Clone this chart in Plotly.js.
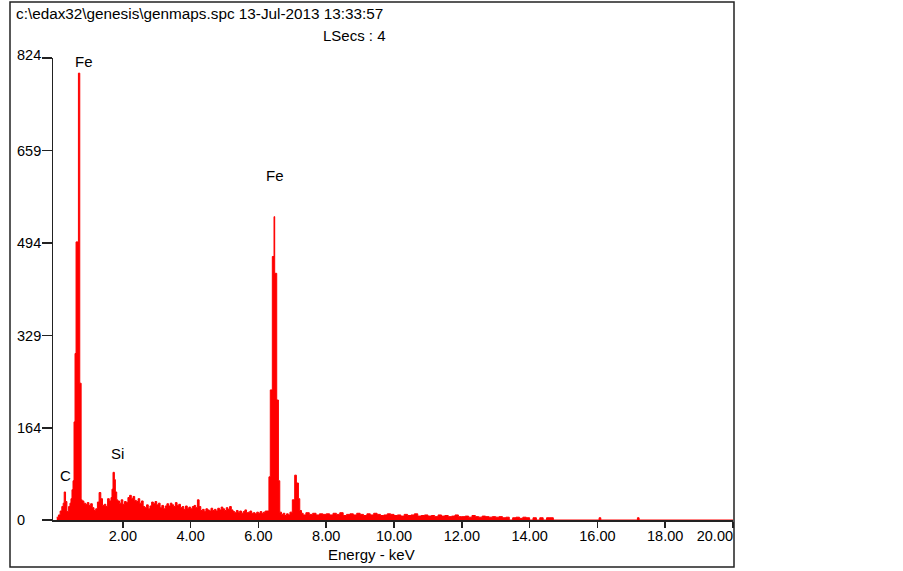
<!DOCTYPE html>
<html>
<head>
<meta charset="utf-8">
<script src="https://cdn.plot.ly/plotly-3.0.1.min.js"></script>
<style>html,body{margin:0;padding:0;background:#fff;}#chart{width:903px;height:571px;}</style>
</head>
<body>
<div id="chart"></div>
<script>
// Spectrum: left edge of each channel group (keV) and its counts
const energyKeV = [
  0.05,0.10,0.15,0.20,0.24,0.27,0.31,0.35,0.40,0.44,0.47,0.50,0.53,0.56,0.59,0.62,0.69,0.73,0.77,
  0.80,0.85,0.90,0.95,1.00,1.05,1.10,1.15,1.20,1.25,1.30,1.35,1.40,1.45,1.50,1.55,1.60,1.65,
  1.68,1.71,1.75,1.78,1.82,
  1.85,1.90,1.95,2.00,2.05,2.10,2.15,2.20,2.25,2.30,2.35,2.40,2.45,2.50,2.55,
  2.60,2.65,2.70,2.75,2.80,2.85,2.90,2.95,3.00,3.05,3.10,3.15,3.20,3.25,
  3.30,3.35,3.40,3.45,3.50,3.55,3.60,3.65,3.70,3.75,3.80,3.85,3.90,3.95,4.00,4.05,
  4.10,4.15,4.20,4.25,4.30,4.35,4.40,4.45,4.50,4.55,4.60,4.65,4.70,4.75,
  4.80,4.85,4.90,4.95,5.00,5.05,5.10,5.15,5.20,
  5.25,5.30,5.35,5.40,5.45,5.50,5.55,5.60,5.65,5.70,5.75,5.80,
  5.85,5.90,5.95,6.00,6.05,6.10,6.15,6.20,
  6.25,6.31,6.35,6.41,6.46,6.48,6.54,6.59,6.63,6.68,6.73,6.78,6.83,6.88,6.93,
  7.00,7.07,7.12,7.18,7.22,7.27,7.32,
  7.4,7.5,7.6,7.7,7.8,7.9,
  8.0,8.1,8.2,8.3,8.4,8.5,8.6,8.7,8.8,8.9,
  9.0,9.1,9.2,9.3,9.4,9.5,9.6,9.7,9.8,9.9,
  10.0,10.1,10.2,10.3,10.4,10.5,10.6,10.7,10.8,10.9,
  11.0,11.1,11.2,11.3,11.4,11.5,11.6,11.7,11.8,11.9,
  12.0,12.1,12.2,12.3,12.4,12.5,12.6,12.7,12.8,12.9,
  13.0,13.1,13.2,13.3,13.4,13.5,13.6,13.7,13.8,13.9,
  14.0,14.1,14.2,14.3,14.4,14.5,14.6,14.7,
  16.05,16.10,17.18,17.23,20.0
];
const counts = [
  5,9,16,24,30,50,33,15,24,30,38,54,70,175,297,496,797,244,36,
  34,30,28,31,26,29,22,17,20,32,49,38,26,28,24,38,34,40,
  55,85,72,50,36,
  34,30,36,28,33,31,40,44,38,42,35,33,38,30,34,
  24,22,27,20,25,32,29,33,27,30,22,26,20,25,
  29,25,30,27,24,31,26,28,22,24,19,25,21,23,20,24,
  26,22,36,24,17,19,15,20,18,16,21,17,19,16,
  21,18,23,20,17,22,19,24,18,
  15,13,17,14,16,12,15,18,13,14,16,12,
  13,11,14,12,15,12,14,16,
  16,77,232,470,541,440,214,70,14,10,12,8,11,9,14,
  36,80,66,38,17,12,9,
  13,10,12,9,11,10,
  11,9,12,10,13,8,10,11,9,12,
  10,8,11,9,12,10,8,9,11,10,
  8,9,7,10,8,9,11,7,8,9,
  7,8,6,9,7,8,6,7,9,6,
  6,7,5,8,6,5,7,6,5,6,
  5,6,4,5,0,4,5,3,5,4,
  0,4,0,4,0,4,4,0,
  4,0,4,0,0
];

const xTickVals = [2,4,6,8,10,12,14,16,18,20];
const xTickText = ['2.00','4.00','6.00','8.00','10.00','12.00','14.00','16.00','18.00','20.00'];
const yTickVals = [0,164,329,494,659,824];
const yTickText = ['0','164','329','494','659','824'];

// peak labels
const peakNames = ['C','Fe','Si','Fe'];
const peakKeV   = [0.30,0.85,1.83,6.50];
const peakLabelY= [80,817,118,615];

const headerLine = 'c:\\edax32\\genesis\\genmaps.spc 13-Jul-2013 13:33:57';
const liveSecs = 'LSecs : 4';
const xTitle = 'Energy - keV';

const FONT = 'Liberation Sans, Arial, sans-serif';
const fnt = {family: FONT, size: 15, color: '#000'};
const tfnt = {family: FONT, size: 14.5, color: '#000'};

const L = 53, R = 733, T = 58, B = 520;
const W = R - L, H = B - T;
const px = p => (p - L) / W;
const py = p => (B - p) / H;

// last x label sits inside the frame (shifted left like the reference)
const NBSP = '\u00A0';
const xTickShown = xTickText.map((t, i) => i === xTickText.length - 1 ? t + NBSP.repeat(9) : t);

const annotations = [];
for (let i = 0; i < peakNames.length; i++) {
  annotations.push({x: peakKeV[i], y: peakLabelY[i], xref: 'x', yref: 'y', text: peakNames[i],
    showarrow: false, font: fnt, xanchor: 'center', yanchor: 'middle'});
}
for (let i = 0; i < yTickVals.length; i++) {
  annotations.push({x: px(15), y: yTickVals[i], xref: 'paper', yref: 'y', text: yTickText[i],
    showarrow: false, font: tfnt, xanchor: 'left', yanchor: 'middle', yshift: i === yTickVals.length - 1 ? 3 : 0});
}
annotations.push({x: px(14), y: py(14), xref: 'paper', yref: 'paper', text: headerLine,
  showarrow: false, font: {family: FONT, size: 15.3, color: '#000'}, xanchor: 'left', yanchor: 'middle'});
annotations.push({x: px(321), y: py(36), xref: 'paper', yref: 'paper', text: liveSecs,
  showarrow: false, font: fnt, xanchor: 'left', yanchor: 'middle'});
annotations.push({x: px(371), y: py(554), xref: 'paper', yref: 'paper', text: xTitle,
  showarrow: false, font: fnt, xanchor: 'center', yanchor: 'middle'});

const trace = {
  type: 'scatter', mode: 'lines', x: energyKeV, y: counts,
  line: {shape: 'hv', color: '#ff0000', width: 1},
  fill: 'tozeroy', fillcolor: '#ff0000', hoverinfo: 'skip'
};

const layout = {
  width: 903, height: 571,
  margin: {l: L, r: 903 - R, t: T, b: 571 - B, pad: 0},
  paper_bgcolor: '#fff', plot_bgcolor: '#fff',
  showlegend: false,
  font: fnt,
  xaxis: {
    range: [-0.06, 20], tickvals: xTickVals, ticktext: xTickShown,
    ticks: 'outside', ticklen: 6, tickwidth: 1.5, tickcolor: '#222',
    ticklabelstandoff: -4,
    showline: true, linecolor: '#222', linewidth: 2,
    showgrid: false, zeroline: false, tickfont: tfnt
  },
  yaxis: {
    range: [0, 824], tickvals: yTickVals, showticklabels: false,
    ticks: 'outside', ticklen: 10, tickwidth: 1.5, tickcolor: '#222',
    showline: true, linecolor: '#222', linewidth: 1.5,
    showgrid: false, zeroline: false
  },
  shapes: [{type: 'rect', xref: 'paper', yref: 'paper',
    x0: px(10), x1: px(734), y0: py(567), y1: py(2),
    line: {color: '#222', width: 1.5}, fillcolor: 'rgba(0,0,0,0)'}],
  annotations: annotations
};

Plotly.newPlot('chart', [trace], layout, {displayModeBar: false, staticPlot: true});
</script>
</body>
</html>
